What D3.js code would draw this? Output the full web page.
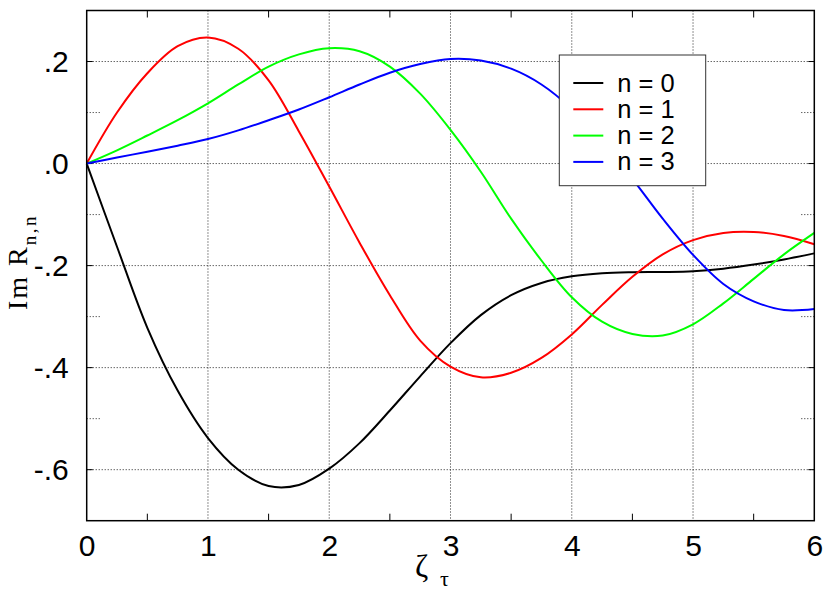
<!DOCTYPE html>
<html>
<head>
<meta charset="utf-8">
<script src="https://cdn.jsdelivr.net/npm/d3@7"></script>
<style>
  html, body { margin: 0; padding: 0; background: #fff; }
</style>
</head>
<body>
<svg id="chart" width="830" height="591"></svg>
<script>

// values
var zeta = [0, 0.25, 0.5, 0.75, 1, 1.25, 1.5, 1.75, 2, 2.25, 2.5, 2.75, 3,
            3.25, 3.5, 3.75, 4, 4.25, 4.5, 4.75, 5, 5.25, 5.5, 5.75, 6];

var n0 = [0, -0.163, -0.322, -0.445, -0.538, -0.600, -0.632, -0.630, -0.598, -0.548, -0.484, -0.417, -0.352,
          -0.297, -0.258, -0.234, -0.221, -0.215, -0.213, -0.2125, -0.211, -0.206, -0.198, -0.188, -0.176];
var n1 = [0, 0.10, 0.177, 0.230, 0.247, 0.225, 0.163, 0.063, -0.045, -0.155, -0.258, -0.347, -0.398,
          -0.419, -0.410, -0.381, -0.335, -0.277, -0.222, -0.178, -0.150, -0.136, -0.134, -0.142, -0.158];
var n2 = [0, 0.026, 0.055, 0.085, 0.118, 0.155, 0.19, 0.214, 0.226, 0.22, 0.19, 0.137, 0.066,
          -0.016, -0.108, -0.19, -0.262, -0.31, -0.334, -0.337, -0.315, -0.274, -0.226, -0.178, -0.136];
var n3 = [0, 0.012, 0.023, 0.035, 0.048, 0.065, 0.085, 0.106, 0.13, 0.155, 0.178, 0.195, 0.205,
          0.202, 0.186, 0.155, 0.107, 0.043, -0.03, -0.108, -0.179, -0.236, -0.270, -0.287, -0.285];

var seriesNames = ["n = 0", "n = 1", "n = 2", "n = 3"];
var seriesColors = ["#000000", "#ff0000", "#00ff00", "#0000ff"];

var xTicks = [0, 1, 2, 3, 4, 5, 6];
var xMinorTicks = [0.5, 1.5, 2.5, 3.5, 4.5, 5.5];
var yTicks = [0.2, 0, -0.2, -0.4, -0.6];
var yTickLabels = [".2", ".0", "-.2", "-.4", "-.6"];
var yMinorTicks = [0.1, -0.1, -0.3, -0.5];

var svg = d3.select("#chart"),
    margin = {top: 10.5, right: 15.7, bottom: 70.3, left: 86.7},
    width = +svg.attr("width") - margin.left - margin.right,
    height = +svg.attr("height") - margin.top - margin.bottom,
    g = svg.append("g").attr("transform", "translate(" + margin.left + "," + margin.top + ")");

var x = d3.scaleLinear().domain([0, 6]).range([0, width]);
var y = d3.scaleLinear().domain([-0.7, 0.3]).range([height, 0]);

var gridColor = "#222";

// grid
g.selectAll(".vgrid")
  .data(xTicks.filter(function(d) { return d > 0 && d < 6; }))
  .enter().append("line")
    .attr("x1", function(d) { return x(d); })
    .attr("x2", function(d) { return x(d); })
    .attr("y1", 0).attr("y2", height)
    .attr("stroke", gridColor).attr("stroke-width", 1)
    .attr("stroke-dasharray", "1,2");

g.selectAll(".hgrid")
  .data(yTicks)
  .enter().append("line")
    .attr("x1", 0).attr("x2", width)
    .attr("y1", function(d) { return y(d); })
    .attr("y2", function(d) { return y(d); })
    .attr("stroke", gridColor).attr("stroke-width", 1)
    .attr("stroke-dasharray", "1,2");

// minor x ticks, bottom and top
[height, 0].forEach(function(y0) {
  var dir = y0 === 0 ? 1 : -1;
  g.selectAll(null)
    .data(xMinorTicks)
    .enter().append("line")
      .attr("x1", function(d) { return x(d); })
      .attr("x2", function(d) { return x(d); })
      .attr("y1", y0).attr("y2", y0 + dir * 7)
      .attr("stroke", "#000").attr("stroke-width", 1);
});

// y ticks, left and right
[0, width].forEach(function(x0) {
  var dir = x0 === 0 ? 1 : -1;
  g.selectAll(null)
    .data(yTicks)
    .enter().append("line")
      .attr("x1", x0).attr("x2", x0 + dir * 6)
      .attr("y1", function(d) { return y(d); })
      .attr("y2", function(d) { return y(d); })
      .attr("stroke", "#000").attr("stroke-width", 1);
  g.selectAll(null)
    .data(yMinorTicks)
    .enter().append("line")
      .attr("x1", x0).attr("x2", x0 + dir * 14)
      .attr("y1", function(d) { return y(d); })
      .attr("y2", function(d) { return y(d); })
      .attr("stroke", gridColor).attr("stroke-width", 1)
      .attr("stroke-dasharray", "1,2");
});

// curves
var line = d3.line()
    .x(function(d) { return x(d[0]); })
    .y(function(d) { return y(d[1]); })
    .curve(d3.curveCatmullRom.alpha(0.5));

[n0, n1, n2, n3].forEach(function(vals, i) {
  g.append("path")
    .datum(zeta.map(function(z, j) { return [z, vals[j]]; }))
    .attr("fill", "none")
    .attr("stroke", seriesColors[i])
    .attr("stroke-width", 2)
    .attr("stroke-linejoin", "round")
    .attr("d", line);
});

// legend
var legend = svg.append("g").attr("transform", "translate(559.3,55)");
legend.append("rect")
    .attr("width", 146.4).attr("height", 130.7)
    .attr("fill", "#fff").attr("stroke", "#333").attr("stroke-width", 1);
seriesNames.forEach(function(name, i) {
  var ly = 28 + i * 26.3;
  legend.append("line")
    .attr("x1", 14).attr("x2", 44)
    .attr("y1", ly).attr("y2", ly)
    .attr("stroke", seriesColors[i]).attr("stroke-width", 2);
  legend.append("text")
    .attr("x", 58).attr("y", ly + 8.5)
    .attr("font-family", "'Liberation Sans', Arial, sans-serif")
    .attr("font-size", 25.5)
    .attr("fill", "#000")
    .text(name);
});

// frame
g.append("rect")
    .attr("width", width).attr("height", height)
    .attr("fill", "none").attr("stroke", "#000").attr("stroke-width", 1.5);

// axis labels
var xAxis = g.append("g")
    .attr("transform", "translate(0," + height + ")")
    .call(d3.axisBottom(x).tickValues(xTicks).tickFormat(d3.format("d")).tickSize(0).tickPadding(14));
xAxis.select(".domain").remove();
xAxis.attr("font-family", "'Liberation Sans', Arial, sans-serif").attr("font-size", 30);
xAxis.selectAll("text").attr("fill", "#000");

var yAxis = g.append("g")
    .call(d3.axisLeft(y).tickValues(yTicks)
      .tickFormat(function(d, i) { return yTickLabels[i]; })
      .tickSize(0).tickPadding(18));
yAxis.select(".domain").remove();
yAxis.attr("font-family", "'Liberation Sans', Arial, sans-serif").attr("font-size", 30);
yAxis.selectAll("text").attr("fill", "#000");

// y title: Im R_{n,n}
var yTitle = svg.append("text")
    .attr("transform", "rotate(-90)")
    .attr("x", -310).attr("y", 27)
    .attr("font-family", "'Liberation Serif', 'Times New Roman', serif")
    .attr("font-size", 28)
    .attr("letter-spacing", 2)
    .attr("fill", "#000");
yTitle.append("tspan").text("Im R");
yTitle.append("tspan").attr("font-size", 19).attr("letter-spacing", 2.5).attr("dy", 9).text("n,n");

// x title: zeta_tau
svg.append("text")
    .attr("x", 415).attr("y", 577)
    .attr("font-family", "'Liberation Serif', 'Times New Roman', serif")
    .attr("font-size", 32)
    .attr("fill", "#000")
    .text("ζ");
svg.append("text")
    .attr("x", 440).attr("y", 586)
    .attr("font-family", "'Liberation Serif', 'Times New Roman', serif")
    .attr("font-size", 22)
    .attr("fill", "#000")
    .text("τ");

</script>
</body>
</html>
